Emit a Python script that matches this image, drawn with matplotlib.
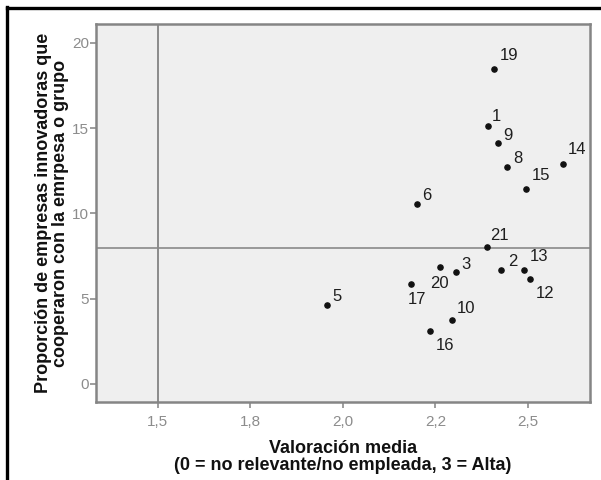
import matplotlib
matplotlib.use("Agg")
import matplotlib.pyplot as plt
from matplotlib.lines import Line2D

plt.rcParams['font.family'] = ['Liberation Sans', 'DejaVu Sans']

# sector id, mean rating (x) and share of cooperating firms (y)
sector = ["19", "1", "9", "8", "14", "15", "6", "21", "2", "13", "12",
          "3", "20", "17", "5", "10", "16"]
valoracion = [2.409, 2.391, 2.418, 2.443, 2.593, 2.495, 2.200, 2.390, 2.428,
              2.489, 2.506, 2.306, 2.262, 2.184, 1.956, 2.294, 2.234]
proporcion = [18.48, 15.13, 14.12, 12.71, 12.92, 11.44, 10.56, 8.02, 6.70,
              6.70, 6.18, 6.55, 6.88, 5.88, 4.62, 3.74, 3.11]

# reference lines
ref_x = 1.5
ref_y = 8.0

xticks = [1.5, 1.75, 2.0, 2.25, 2.5]
xtick_labels = ["1,5", "1,8", "2,0", "2,2", "2,5"]
yticks = [0, 5, 10, 15, 20]

# label placement around each dot, in pixels (dx, dy)
label_offsets = [(15, 13.5), (8.5, 9), (10, 8), (10.5, 8.5), (14.5, 14),
                 (14.5, 13.5), (10, 8), (12.5, 12), (11, 8.5), (15, 13.5),
                 (14.5, -15), (10, 8), (0, -17), (6, -15.5), (10.5, 8.5),
                 (14.5, 11.5), (15.5, -15)]

fig = plt.figure(figsize=(6.01, 4.80), dpi=100)
ax = fig.add_axes([96 / 601, 1 - 402 / 480, (590 - 96) / 601, (402 - 24) / 480])
ax.set_facecolor("#efefef")

ax.axvline(ref_x, color="#7a7a7a", lw=1.2, zorder=1)
ax.axhline(ref_y, color="#8a8a8a", lw=1.2, zorder=1)

ax.scatter(valoracion, proporcion, s=14, color="#111111", zorder=3)
for name, x, y, (dx, dy) in zip(sector, valoracion, proporcion, label_offsets):
    ax.annotate(name, (x, y), xytext=(dx, dy), textcoords="offset pixels",
                ha="center", va="center", fontsize=12, color="#1e1e1e")

ax.set_xlim(1.334, 2.667)
ax.set_ylim(-1.06, 21.11)
ax.set_xticks(xticks)
ax.set_xticklabels(xtick_labels)
ax.set_yticks(yticks)
ax.tick_params(axis="both", colors="#8c8c8c", labelsize=11, length=4,
               width=1.2, direction="out")
ax.tick_params(axis="x", pad=5)
ax.tick_params(axis="y", pad=1)

for side in ax.spines.values():
    side.set_color("#858585")
    side.set_linewidth(1.8)

ax.set_xlabel("Valoración media\n(0 = no relevante/no empleada, 3 = Alta)",
              fontsize=13, fontweight="bold", color="#111111",
              labelpad=8, linespacing=1.0)
ax.set_ylabel("Proporción de empresas innovadoras que\ncooperaron con la emrpesa o grupo",
              fontsize=13, fontweight="bold", color="#111111",
              labelpad=2, linespacing=1.0)

# black frame along the top and left edges of the figure
fig.add_artist(Line2D([7 / 601, 7 / 601], [0, 1 - 7 / 480],
                      transform=fig.transFigure, color="black", lw=2.4))
fig.add_artist(Line2D([7 / 601, 1], [1 - 8 / 480, 1 - 8 / 480],
                      transform=fig.transFigure, color="black", lw=2.4))

fig.savefig("out.png", dpi=100)
